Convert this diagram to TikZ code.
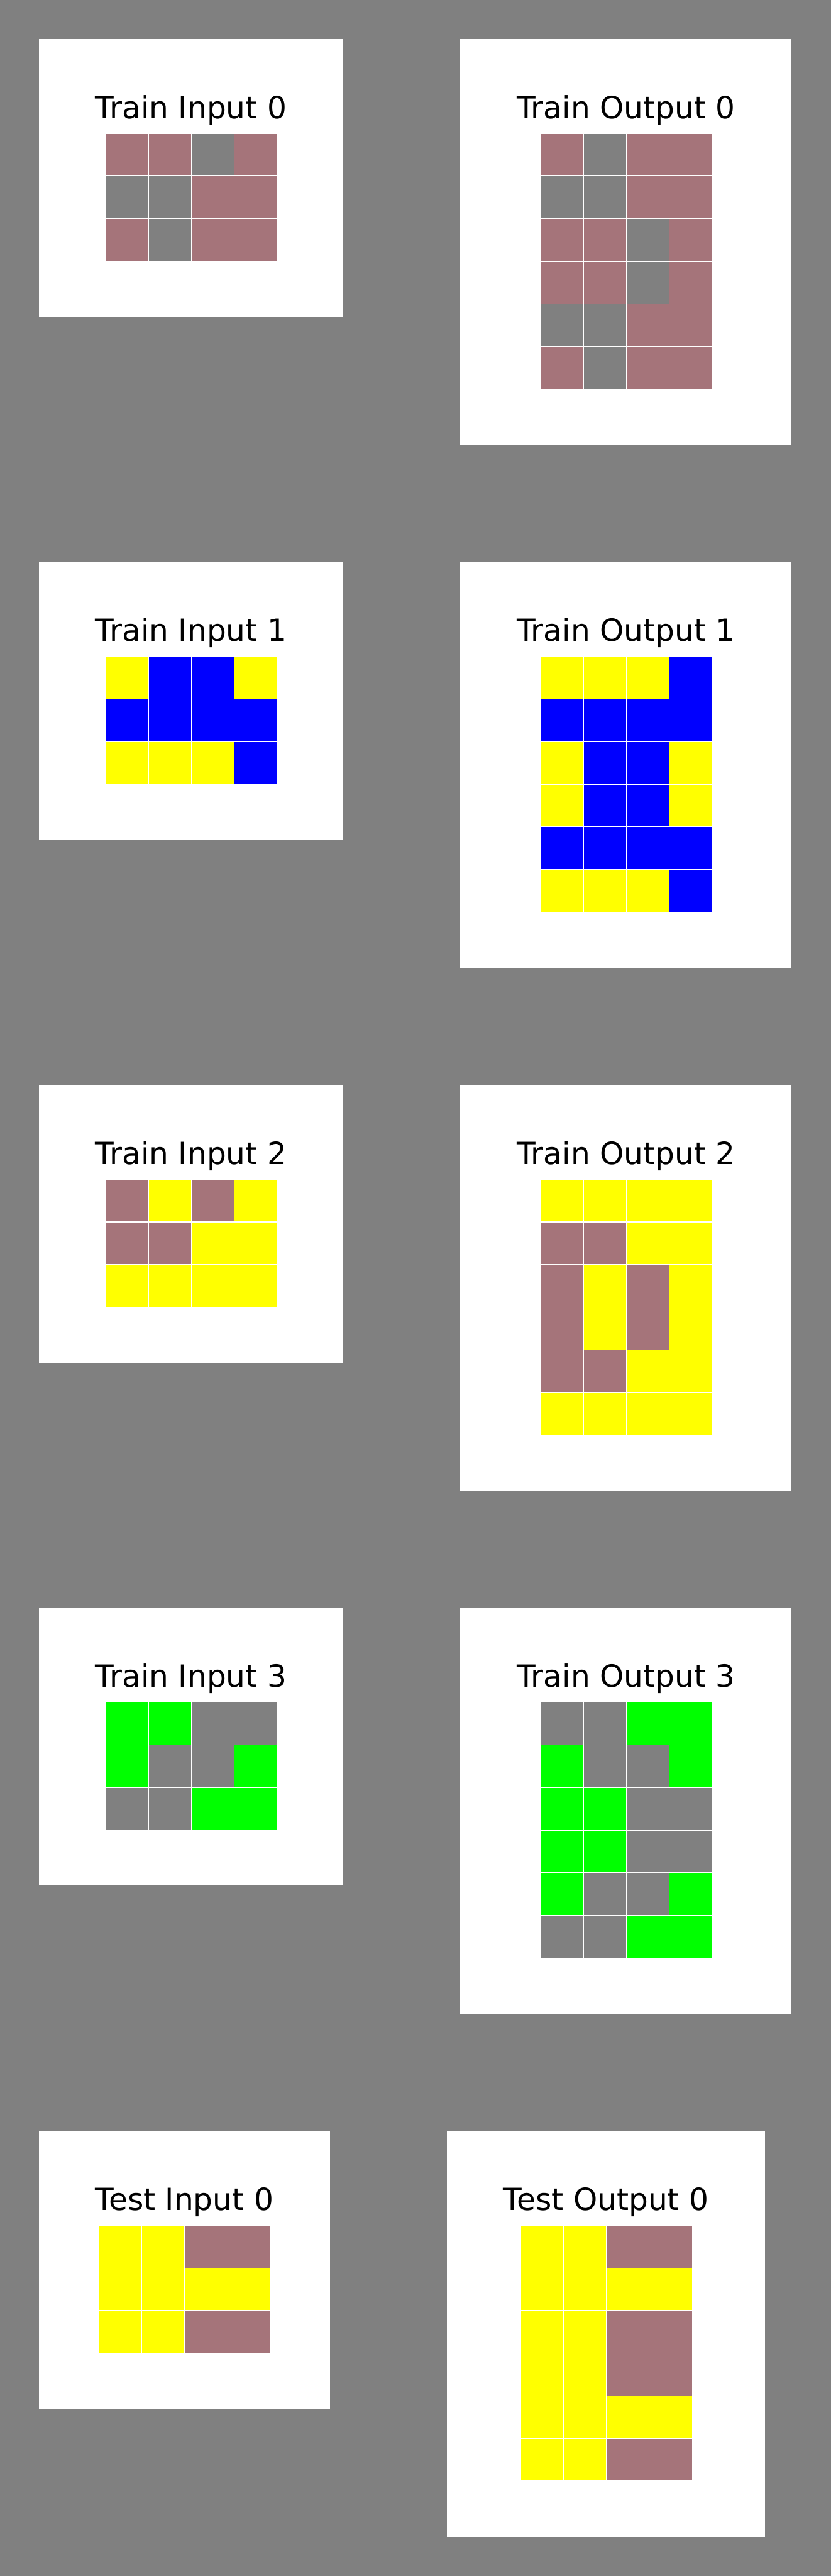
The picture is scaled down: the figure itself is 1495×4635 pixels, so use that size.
\documentclass[tikz,border=0pt]{standalone}
\usepackage{fontspec}
\setmainfont{DejaVu Sans}
\definecolor{cM}{RGB}{165,116,122}
\definecolor{cG}{RGB}{128,128,128}
\definecolor{cY}{RGB}{255,255,0}
\definecolor{cB}{RGB}{0,0,255}
\definecolor{cN}{RGB}{0,255,0}
\definecolor{bg}{RGB}{128,128,128}
\tikzset{
  panel/.style={fill=white},
  cell/.style={draw=white, line width=1.3pt},
  ttl/.style={anchor=base, inner sep=0pt, font=\fontsize{55}{65}\selectfont, text=black}
}
\newcommand{\arcgrid}[3]{%
  \foreach \rr [count=\r from 0] in {#3} {
    \foreach \cc [count=\k from 0] in \rr {
      \filldraw[cell, fill=c\cc] ({#1+\k*77.25},{#2+\r*76.67}) rectangle ++(77.25,76.67);
    }
  }
}
\begin{document}
\begin{tikzpicture}[x=1pt,y=-1pt]
\useasboundingbox (0,0) rectangle (1495,4635);
\fill[bg] (-20,-20) rectangle (1515,4655);
% Row 0
\fill[panel] (70,70) rectangle (618,570);
\node[ttl] (ti0) at (344,213) {Train Input 0};
\arcgrid{190}{240}{{M,M,G,M},{G,G,M,M},{M,G,M,M}}
\fill[panel] (828,70) rectangle (1425,801);
\node[ttl] (to0) at (1127,213) {Train Output 0};
\arcgrid{973}{240}{{M,G,M,M},{G,G,M,M},{M,M,G,M},{M,M,G,M},{G,G,M,M},{M,G,M,M}}
% Row 1
\fill[panel] (70,1011) rectangle (618,1511);
\node[ttl] (ti1) at (344,1154) {Train Input 1};
\arcgrid{190}{1181}{{Y,B,B,Y},{B,B,B,B},{Y,Y,Y,B}}
\fill[panel] (828,1011) rectangle (1425,1742);
\node[ttl] (to1) at (1127,1154) {Train Output 1};
\arcgrid{973}{1181}{{Y,Y,Y,B},{B,B,B,B},{Y,B,B,Y},{Y,B,B,Y},{B,B,B,B},{Y,Y,Y,B}}
% Row 2
\fill[panel] (70,1952) rectangle (618,2452);
\node[ttl] (ti2) at (344,2095) {Train Input 2};
\arcgrid{190}{2122}{{M,Y,M,Y},{M,M,Y,Y},{Y,Y,Y,Y}}
\fill[panel] (828,1952) rectangle (1425,2683);
\node[ttl] (to2) at (1127,2095) {Train Output 2};
\arcgrid{973}{2122}{{Y,Y,Y,Y},{M,M,Y,Y},{M,Y,M,Y},{M,Y,M,Y},{M,M,Y,Y},{Y,Y,Y,Y}}
% Row 3
\fill[panel] (70,2893) rectangle (618,3393);
\node[ttl] (ti3) at (344,3036) {Train Input 3};
\arcgrid{190}{3063}{{N,N,G,G},{N,G,G,N},{G,G,N,N}}
\fill[panel] (828,2893) rectangle (1425,3624);
\node[ttl] (to3) at (1127,3036) {Train Output 3};
\arcgrid{973}{3063}{{G,G,N,N},{N,G,G,N},{N,N,G,G},{N,N,G,G},{N,G,G,N},{G,G,N,N}}
% Test
\fill[panel] (70,3834) rectangle (594,4334);
\node[ttl] (tsi) at (332,3977) {Test Input 0};
\arcgrid{178}{4004}{{Y,Y,M,M},{Y,Y,Y,Y},{Y,Y,M,M}}
\fill[panel] (804,3834) rectangle (1377,4565);
\node[ttl] (tso) at (1091,3977) {Test Output 0};
\arcgrid{937}{4004}{{Y,Y,M,M},{Y,Y,Y,Y},{Y,Y,M,M},{Y,Y,M,M},{Y,Y,Y,Y},{Y,Y,M,M}}
\end{tikzpicture}
\end{document}
